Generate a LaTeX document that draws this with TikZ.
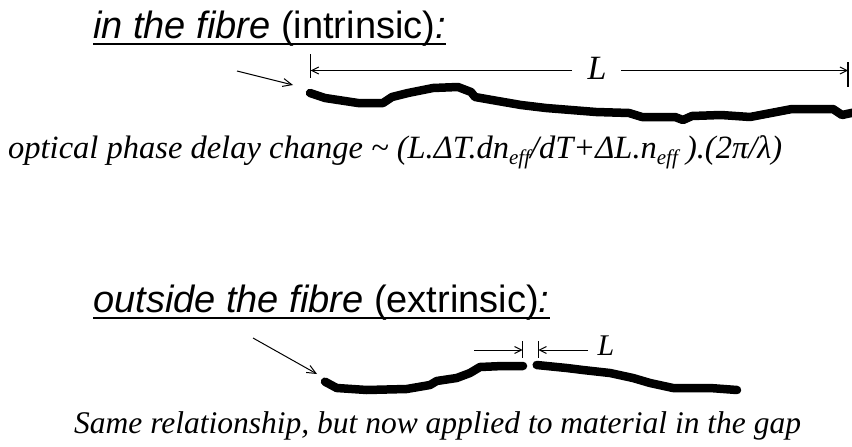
\documentclass[tikz,border=0pt]{standalone}
\usepackage{fontspec}
\setmainfont{Liberation Serif}
\newfontfamily\arialfont{Liberation Sans}
\usetikzlibrary{arrows.meta}
\tikzset{
  fibre/.style={line width=8.5pt, line cap=round, line join=round},
  titletext/.style={anchor=base west, inner sep=0pt, font=\arialfont\fontsize{38}{40}\selectfont},
  uline/.style={line width=2.6pt},
  eqtext/.style={anchor=base west, inner sep=0pt, font=\fontsize{32.5}{34}\selectfont\itshape},
  bottext/.style={anchor=base west, inner sep=0pt, font=\fontsize{31.5}{34}\selectfont\itshape},
  tickline/.style={line width=1.3pt},
  dimarrow/.style={line width=1pt, -{Straight Barb[length=7pt,width=7pt]}},
  pointer/.style={line width=1pt, -{Straight Barb[length=9pt,width=8pt]}},
  lbl/.style={inner sep=0pt, anchor=base, font=\itshape},
}
\newcommand{\effsub}{\raisebox{-6pt}{\fontsize{21}{21}\selectfont eff}}
\begin{document}
\begin{tikzpicture}[x=1pt,y=-1pt]
\useasboundingbox (0,0) rectangle (852,447);
% ---------- intrinsic ----------
\node[titletext] (t1) at (93,38) {\itshape in the fibre\/\upshape{} (intrinsic)\itshape :};
\draw[uline] ([yshift=-6pt]t1.base west) -- ([yshift=-6pt]t1.base east);

\coordinate (lt1a) at (310.7,54);
\coordinate (lt1b) at (310.7,78);
\coordinate (rt1a) at (848,62);
\coordinate (rt1b) at (848,87);
\coordinate (lt1) at (310.7,70.5);
\coordinate (rt1) at (848,70.5);
\draw[tickline] (lt1a) -- (lt1b);
\draw[tickline] (rt1a) -- (rt1b);
\node[lbl, font=\itshape\fontsize{34}{34}\selectfont] (L1) at (597,79) {L};
\coordinate (L1l) at (572,70.5);
\coordinate (L1r) at (621,70.5);
\draw[dimarrow] (L1l) -- (lt1);
\draw[dimarrow] (L1r) -- (rt1);

\coordinate (p1s) at (237,71);
\coordinate (p1e) at (293,85);
\draw[pointer] (p1s) -- (p1e);

\draw[fibre] (310,93) -- (325,98) -- (358,103) -- (383,103) -- (392,97) -- (408,93) -- (433,88) -- (458,87) -- (471,92) -- (475,97) -- (492,100) -- (521,105) -- (546,108) -- (596,112) -- (629,113) -- (642,117) -- (675,117) -- (683,120) -- (692,116) -- (721,115) -- (750,117) -- (792,109) -- (833,109) -- (842,115) -- (856,112);

\node[eqtext] (eq) at (8,158) {optical phase delay change {\char"007E} (L.ΔT.dn\effsub/dT+ΔL.n\effsub{} ).(2π/λ)};

% ---------- extrinsic ----------
\node[titletext] (t2) at (93,312) {\itshape outside the fibre\/\upshape{} (extrinsic)\itshape :};
\draw[uline] ([yshift=-6pt]t2.base west) -- ([yshift=-6pt]t2.base east);

\coordinate (p2s) at (253,338);
\coordinate (p2e) at (317,374);
\draw[pointer] (p2s) -- (p2e);

\coordinate (gl) at (522.7,350);
\coordinate (gr) at (538.3,350);
\draw[tickline] (522.7,341) -- (522.7,358);
\draw[tickline] (538.3,341) -- (538.3,358);
\coordinate (al) at (474,350);
\coordinate (ar) at (588,350);
\draw[dimarrow] (al) -- (gl);
\draw[dimarrow] (ar) -- (gr);
\node[lbl, font=\itshape\fontsize{30}{30}\selectfont] (L2) at (606,355) {L};

\draw[fibre] (325,381.7) -- (336.7,388) -- (366.7,390) -- (406.7,389) -- (430,385) -- (436.7,381) -- (456.7,378) -- (470,373) -- (480,367) -- (503,366) -- (523,366);
\draw[fibre] (536.7,365) -- (566.7,368) -- (583,370) -- (610,373) -- (633,378) -- (650,383) -- (673,388) -- (710,388) -- (737,390);

\node[bottext] (bt) at (74,433) {Same relationship, but now applied to material in the gap};
\end{tikzpicture}
\end{document}
